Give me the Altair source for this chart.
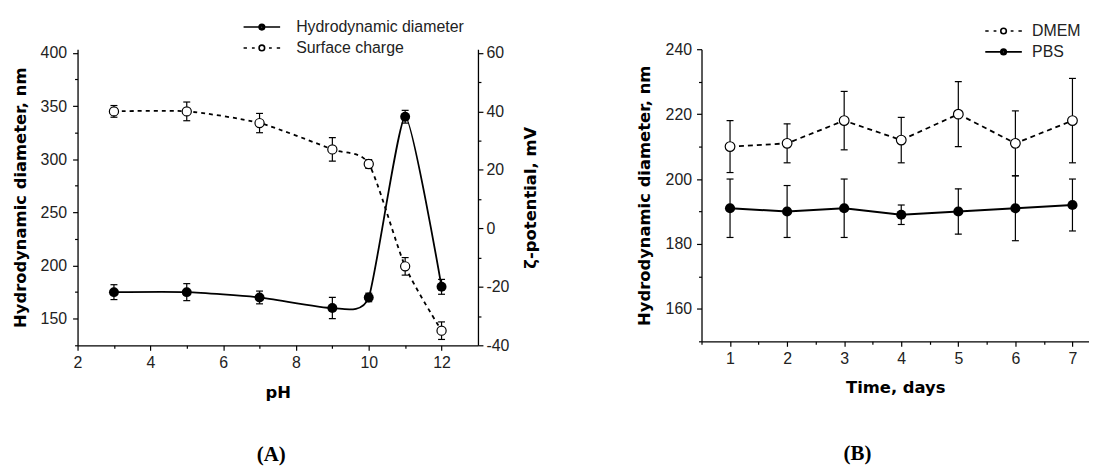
import altair as alt
import pandas as pd

# ---------------- data: panel A (pH dependence) ----------------
ph = [3, 5, 7, 9, 10, 11, 12]
hd = [175, 175, 170, 160, 170, 340, 180]
hd_err = [7, 8, 6, 10, 4, 6, 7]
zeta = [40, 40, 36, 27, 22, -13, -35]
zeta_err = [2, 3.2, 3.3, 4, 1.5, 3, 3]

# ---------------- data: panel B (stability in media) ----------------
days = [1, 2, 3, 4, 5, 6, 7]
dmem = [210, 211, 218, 212, 220, 211, 218]
dmem_err = [8, 6, 9, 7, 10, 10, 13]
pbs = [191, 190, 191, 189, 190, 191, 192]
pbs_err = [9, 8, 9, 3, 7, 10, 8]

legend_a = ["Hydrodynamic diameter", "Surface charge"]
legend_b = ["DMEM", "PBS"]

# tick values (major + minor)
ph_ticks = [2, 3, 4, 5, 6, 7, 8, 9, 10, 11, 12]
hd_ticks = [125, 150, 175, 200, 225, 250, 275, 300, 325, 350, 375, 400]
zeta_ticks = [-40, -30, -20, -10, 0, 10, 20, 30, 40, 50, 60]
day_ticks = [0.5, 1, 1.5, 2, 2.5, 3, 3.5, 4, 4.5, 5, 5.5, 6, 6.5, 7]
bhd_ticks = [150, 160, 170, 180, 190, 200, 210, 220, 230, 240]

FONT = "Liberation Sans"
TFONT = "DejaVu Sans"
LBL = "#222222"


# ---------------- legend symbols (custom paths) ----------------
def ring(r):
    k = round(0.5523 * r, 4)
    return (f"M{r},0C{r},{k},{k},{r},0,{r}C{-k},{r},{-r},{k},{-r},0"
            f"C{-r},{-k},{-k},{-r},0,{-r}C{k},{-r},{r},{-k},{r},0Z")


R = 0.7
open_circ = ring(R)
full_circ = ring(R) + ring(0.4) + ring(0.1)
solid_sym = f"M-4.6,0L{-R},0M{R},0L4.6,0" + full_circ
dashed_sym = "M-4.6,0L-3.75,0M-2.5,0L-1.8,0M1.8,0L2.5,0M3.75,0L4.6,0" + open_circ


def axis(title, values, major, orient, label_pad=5, title_pad=12, **kw):
    return alt.Axis(
        title=title, values=values, orient=orient, grid=False,
        tickSize={"condition": {"test": major, "value": 5}, "value": 3},
        labelExpr=f"({major}) ? toString(datum.value) : ''",
        domainColor="black", domainWidth=1.3, tickColor="black", tickWidth=1.2,
        labelFont=FONT, labelFontSize=16, labelColor=LBL, labelFlush=False,
        labelOverlap=False, labelPadding=label_pad,
        titleFont=TFONT, titleFontSize=16.5, titleFontWeight="bold",
        titleColor="black", titlePadding=title_pad, **kw)


def legend(lx, ly, lo, row_pad, spaced):
    return alt.Legend(
        title=None, orient="none", legendX=lx, legendY=ly, direction="vertical",
        labelFont=FONT, labelFontSize=16, labelColor=LBL, labelOffset=lo,
        labelLimit=400, rowPadding=row_pad, padding=0, symbolSize=64,
        symbolStrokeWidth=1.6, symbolStrokeColor="black",
        labelExpr=f"datum.label == '{spaced}' ? '\u00a0' + datum.label : datum.label")


# ---------------- panel A ----------------
dfa = pd.DataFrame({
    "ph": ph, "hd": hd,
    "hd_lo": [v - e for v, e in zip(hd, hd_err)],
    "hd_hi": [v + e for v, e in zip(hd, hd_err)],
    "zeta": zeta,
    "z_lo": [v - e for v, e in zip(zeta, zeta_err)],
    "z_hi": [v + e for v, e in zip(zeta, zeta_err)],
})

ax_ph = axis("pH", ph_ticks, "datum.value % 2 === 0", "bottom", label_pad=4.5, title_pad=14)
ax_hd = axis("Hydrodynamic diameter, nm", hd_ticks, "datum.value % 50 === 0", "left",
             label_pad=6, title_pad=11.5)
ax_z = axis("ζ-potential, mV", zeta_ticks, "datum.value % 20 === 0", "right",
            label_pad=3, title_pad=14, titleAngle=270, titleBaseline="top")

sx_a = alt.Scale(domain=[2, 13], nice=False, zero=False)
sy_hd = alt.Scale(domain=[125, 403.5], nice=False, zero=False)
sy_z = alt.Scale(domain=[-40, 61.26], nice=False, zero=False)

xa = alt.X("ph:Q", scale=sx_a, axis=ax_ph)
base_a = alt.Chart(dfa)

err_kw = dict(ticks=True, size=7, thickness=1.2, color="black", opacity=1)

hd_err_l = base_a.mark_errorbar(**err_kw).encode(
    x=xa, y=alt.Y("hd_lo:Q", scale=sy_hd, axis=ax_hd), y2="hd_hi:Q")
hd_line = base_a.mark_line(color="black", strokeWidth=1.8, interpolate="cardinal",
                           tension=0.45).encode(
    x=xa, y=alt.Y("hd:Q", scale=sy_hd, axis=ax_hd))
hd_pts = base_a.mark_point(shape="circle", filled=True, color="black", size=100,
                           opacity=1).encode(
    x=xa, y=alt.Y("hd:Q", scale=sy_hd, axis=ax_hd))

leg_a = legend(177.5, -30.3, 26.5, 5, "Hydrodynamic diameter")
leg_layer_a = alt.Chart(pd.DataFrame({"series": legend_a})).transform_filter(
    "false").mark_point(filled=False, color="black", stroke="black", strokeWidth=1.6,
                        size=64, opacity=1).encode(
    shape=alt.Shape("series:N", scale=alt.Scale(domain=legend_a,
                                                range=[solid_sym, dashed_sym]),
                    legend=leg_a))

z_err_l = base_a.mark_errorbar(**err_kw).encode(
    x=xa, y=alt.Y("z_lo:Q", scale=sy_z, axis=ax_z), y2="z_hi:Q")
z_line = base_a.mark_line(color="black", strokeWidth=1.8, strokeDash=[4, 4],
                          interpolate="cardinal", tension=0.3).encode(
    x=xa, y=alt.Y("zeta:Q", scale=sy_z, axis=ax_z))
z_pts = base_a.mark_point(shape="circle", filled=True, fill="white", stroke="black",
                          strokeWidth=1.2, size=85, opacity=1).encode(
    x=xa, y=alt.Y("zeta:Q", scale=sy_z, axis=ax_z))

panel_a = alt.layer(
    alt.layer(hd_err_l, hd_line, hd_pts, leg_layer_a),
    alt.layer(z_err_l, z_line, z_pts),
).resolve_scale(y="independent").properties(
    width=403, height=298,
    title=alt.TitleParams("(A)", orient="bottom", anchor="middle", frame="group",
                          font="Liberation Serif", fontSize=21, fontWeight="bold",
                          color="black", dx=-6.5, offset=43, baseline="top"))

# ---------------- panel B ----------------
dfb = pd.DataFrame({
    "day": days,
    "dmem": dmem,
    "d_lo": [v - e for v, e in zip(dmem, dmem_err)],
    "d_hi": [v + e for v, e in zip(dmem, dmem_err)],
    "pbs": pbs,
    "p_lo": [v - e for v, e in zip(pbs, pbs_err)],
    "p_hi": [v + e for v, e in zip(pbs, pbs_err)],
})

ax_day = axis("Time, days", day_ticks, "datum.value % 1 === 0", "bottom",
              label_pad=4.5, title_pad=13.4)
ax_bhd = axis("Hydrodynamic diameter, nm", bhd_ticks, "datum.value % 20 === 0", "left",
              label_pad=5, title_pad=12.3)

sx_b = alt.Scale(domain=[0.5, 7.29], nice=False, zero=False)
sy_b = alt.Scale(domain=[150, 240], nice=False, zero=False)
xb = alt.X("day:Q", scale=sx_b, axis=ax_day)
base_b = alt.Chart(dfb)

d_err_l = base_b.mark_errorbar(**err_kw).encode(
    x=xb, y=alt.Y("d_lo:Q", scale=sy_b, axis=ax_bhd), y2="d_hi:Q")
p_err_l = base_b.mark_errorbar(**err_kw).encode(
    x=xb, y=alt.Y("p_lo:Q", scale=sy_b, axis=ax_bhd), y2="p_hi:Q")
d_line = base_b.mark_line(color="black", strokeWidth=1.8, strokeDash=[5, 4]).encode(
    x=xb, y=alt.Y("dmem:Q", scale=sy_b, axis=ax_bhd))
p_line = base_b.mark_line(color="black", strokeWidth=2).encode(
    x=xb, y=alt.Y("pbs:Q", scale=sy_b, axis=ax_bhd))
d_pts = base_b.mark_point(shape="circle", filled=True, fill="white", stroke="black",
                          strokeWidth=1.2, size=95, opacity=1).encode(
    x=xb, y=alt.Y("dmem:Q", scale=sy_b, axis=ax_bhd))
p_pts = base_b.mark_point(shape="circle", filled=True, color="black", size=105,
                          opacity=1).encode(
    x=xb, y=alt.Y("pbs:Q", scale=sy_b, axis=ax_bhd))

leg_b = legend(296, -26.3, 20.7, 5, "PBS")
leg_layer_b = alt.Chart(pd.DataFrame({"series": legend_b})).transform_filter(
    "false").mark_point(filled=False, color="black", stroke="black", strokeWidth=1.6,
                        size=64, opacity=1).encode(
    shape=alt.Shape("series:N", scale=alt.Scale(domain=legend_b,
                                                range=[dashed_sym, solid_sym]),
                    legend=leg_b))

panel_b = alt.layer(d_err_l, p_err_l, d_line, p_line, d_pts, p_pts, leg_layer_b).properties(
    width=390, height=294,
    title=alt.TitleParams("(B)", orient="bottom", anchor="middle", frame="group",
                          font="Liberation Serif", fontSize=21, fontWeight="bold",
                          color="black", dx=-38, offset=47, baseline="top"))

chart = alt.hconcat(panel_a, panel_b, spacing=225, bounds="flush").resolve_scale(
    shape="independent").resolve_legend(shape="independent").configure_view(
    stroke=None).properties(
    padding={"left": 4, "top": 9, "right": 0, "bottom": 0}, background="white")

chart.save("out.html", embed_options={"renderer": "svg", "actions": False})
